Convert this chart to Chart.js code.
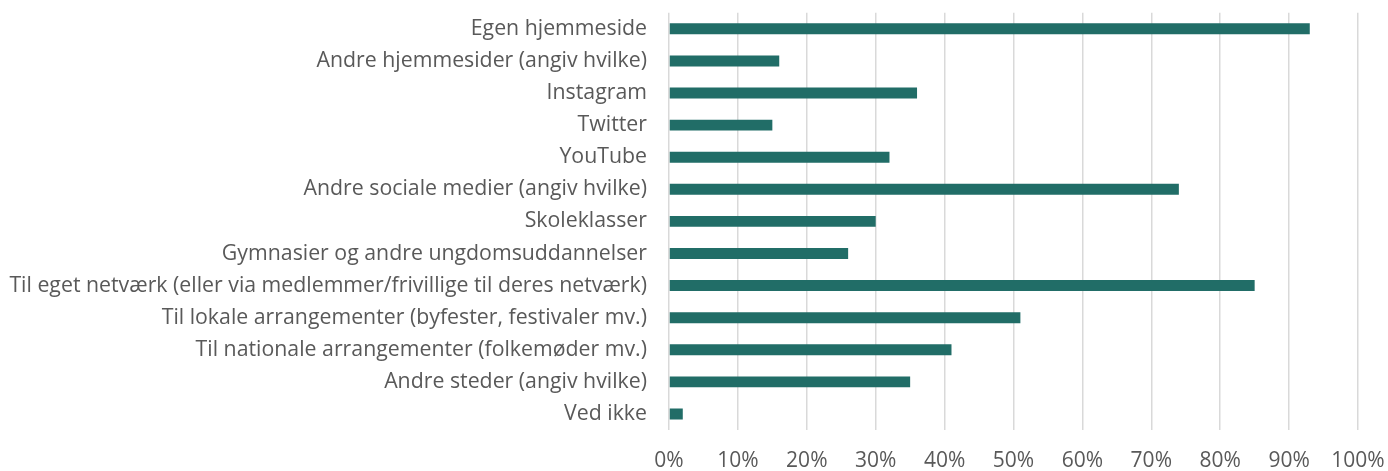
<!DOCTYPE html>
<html>
<head>
<meta charset="utf-8">
<script src="https://cdn.jsdelivr.net/npm/chart.js@4"></script>
<style>
  html, body { margin: 0; padding: 0; background: #fff; }
  #wrap { width: 1388px; height: 471px; position: relative; }
</style>
</head>
<body>
<div id="wrap"><canvas id="chart"></canvas></div>
<script>
// ── Data ─────────────────────────────────────
const categories = [
    'Egen hjemmeside',
    'Andre hjemmesider (angiv hvilke)',
    'Instagram',
    'Twitter',
    'YouTube',
    'Andre sociale medier (angiv hvilke)',
    'Skoleklasser',
    'Gymnasier og andre ungdomsuddannelser',
    'Til eget netværk (eller via medlemmer/frivillige til deres netværk)',
    'Til lokale arrangementer (byfester, festivaler mv.)',
    'Til nationale arrangementer (folkemøder mv.)',
    'Andre steder (angiv hvilke)',
    'Ved ikke',
];
const shares = [0.93, 0.16, 0.36, 0.15, 0.32, 0.74, 0.30, 0.26, 0.85, 0.51, 0.41, 0.35, 0.02];
const xTicks = [0, 0.1, 0.2, 0.3, 0.4, 0.5, 0.6, 0.7, 0.8, 0.9, 1.0];

const FONT = 'Open Sans';
const TEXT = '#595959';

// ── Chart ────────────────────────────────────
new Chart(document.getElementById('chart').getContext('2d'), {
    type: 'bar',
    data: {
        labels: categories,
        datasets: [{
            data: shares,
            backgroundColor: '#216D67',
            borderWidth: 0,
            barPercentage: 0.34,
            categoryPercentage: 1,
        }],
    },
    options: {
        indexAxis: 'y',
        responsive: true,
        maintainAspectRatio: false,
        animation: false,
        layout: { padding: { top: 9, right: 30, left: 0, bottom: 0 } },
        plugins: { legend: { display: false }, tooltip: { enabled: false } },
        scales: {
            x: {
                min: 0, max: 1,
                afterBuildTicks: axis => { axis.ticks = xTicks.map(v => ({ value: v })); },
                afterFit: axis => { axis.height = 41; },
                ticks: {
                    padding: 0,
                    color: TEXT,
                    font: { family: FONT, size: 21 },
                    callback: v => Math.round(v * 100) + '%',
                },
                // transparent tick marks only push the labels down
                grid: { color: '#d9d9d9', lineWidth: 1.5, drawTicks: true, tickLength: 18, tickColor: 'rgba(0,0,0,0)' },
                border: { display: false },
            },
            y: {
                afterFit: axis => { axis.width = 669; },
                ticks: {
                    padding: 0,
                    color: TEXT,
                    font: { family: FONT, size: 21.3 },
                },
                grid: { display: true, drawOnChartArea: false, drawTicks: true, tickLength: 22, tickColor: 'rgba(0,0,0,0)', color: 'rgba(0,0,0,0)' },
                border: { display: false },
            },
        },
    },
});
</script>
</body>
</html>
